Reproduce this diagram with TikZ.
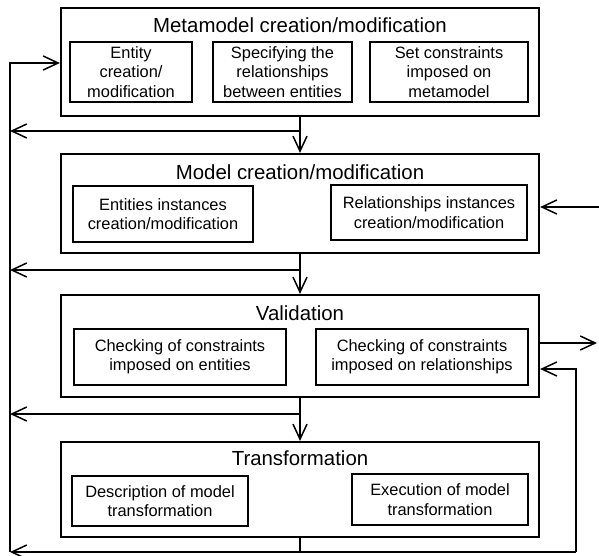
\documentclass[tikz,border=0pt]{standalone}
\usepackage{fontspec}
\setmainfont{Liberation Sans}
\usetikzlibrary{arrows.meta}
\begin{document}
\begin{tikzpicture}[x=1pt,y=-1pt,
  stage/.style={draw, line width=2.2pt, inner sep=0pt},
  task/.style={draw, line width=1.2pt, inner sep=0pt, align=center,
    font=\fontsize{16.4}{19.5}\selectfont},
  stagetitle/.style={inner sep=0pt, font=\fontsize{20.4}{24}\selectfont},
  flow/.style={line width=1.5pt, -{Straight Barb[length=15pt,width=14pt,line width=1.5pt]}},
  wire/.style={line width=1.5pt}]
\useasboundingbox (0,0) rectangle (599,556);

% stages
\node[stage, minimum width=478pt, minimum height=108pt] (B1) at (300,62) {};
\node[stage, minimum width=478pt, minimum height=99pt] (B2) at (300,203.5) {};
\node[stage, minimum width=478pt, minimum height=102pt] (B3) at (300,346) {};
\node[stage, minimum width=478pt, minimum height=95pt] (B4) at (300,489.5) {};

\node[stagetitle] (T1) at (300,25) {Metamodel creation/modification};
\node[stagetitle] (T2) at (300,172) {Model creation/modification};
\node[stagetitle] (T3) at (300,313) {Validation};
\node[stagetitle] (T4) at (300,458) {Transformation};

% tasks inside the stages
\node[task, minimum width=122pt, minimum height=60pt] (e1) at (131,72) {Entity\\creation/\\modification};
\node[task, minimum width=139pt, minimum height=60pt] (e2) at (282.5,72) {Specifying the\\relationships\\between entities};
\node[task, minimum width=158pt, minimum height=60pt] (e3) at (449,72) {Set constraints\\imposed on\\metamodel};

\node[task, minimum width=180pt, minimum height=56pt] (m1) at (163,214) {Entities instances\\creation/modification};
\node[task, minimum width=196pt, minimum height=55pt] (m2) at (429,212.5) {Relationships instances\\creation/modification};

\node[task, minimum width=212pt, minimum height=56pt] (v1) at (180,357) {Checking of constraints\\imposed on entities};
\node[task, minimum width=212pt, minimum height=56pt] (v2) at (422,357) {Checking of constraints\\imposed on relationships};

\node[task, minimum width=176pt, minimum height=50pt] (t1) at (160,501) {Description of model\\transformation};
\node[task, minimum width=176pt, minimum height=51pt] (t2) at (440,499.5) {Execution of model\\transformation};

% bus and junction points
\coordinate (ltop) at (10,63);
\coordinate (lbot) at (10,552);
\coordinate (j1) at (300,131);
\coordinate (j2) at (300,270);
\coordinate (j3) at (300,414);
\coordinate (j4) at (300,552);
\coordinate (fb) at (576,552);
\coordinate (fbup) at (576,369);
\coordinate (rin) at (599,207);
\coordinate (rout) at (597,343);

% forward flow between stages
\draw[flow] (B1.south) -- (B2.north);
\draw[flow] (B2.south) -- (B3.north);
\draw[flow] (B3.south) -- (B4.north);
\draw[wire] (B4.south) -- (j4);

% returns to the left bus
\draw[flow] (j1) -- (j1 -| ltop);
\draw[flow] (j2) -- (j2 -| ltop);
\draw[flow] (j3) -- (j3 -| ltop);
\draw[flow] (fb) -- (lbot);
\draw[flow] (lbot) -- (ltop) -- (ltop -| B1.west);

% right side
\draw[flow] (fb) -- (fbup) -- (fbup -| B3.east);
\draw[flow] (rin) -- (rin -| B2.east);
\draw[flow] (B3.east |- rout) -- (rout);
\end{tikzpicture}
\end{document}
